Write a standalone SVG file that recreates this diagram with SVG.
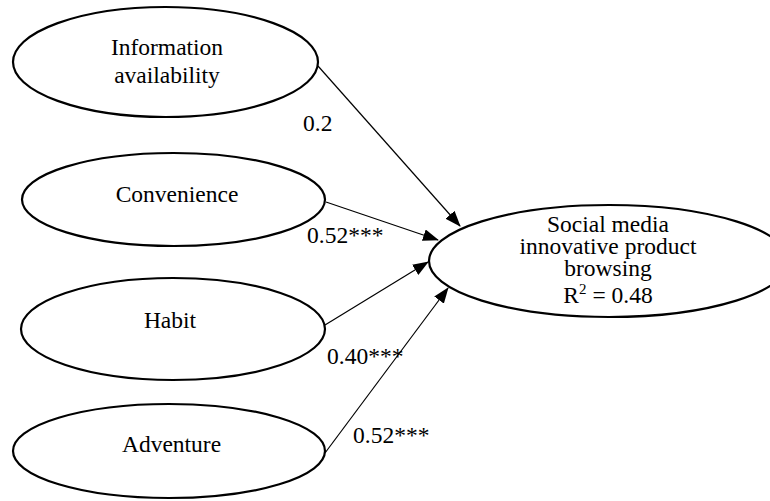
<svg xmlns="http://www.w3.org/2000/svg" width="770" height="501" viewBox="0 0 770 501">
<style>
.node ellipse{fill:#fff;stroke:#000;stroke-width:2.2}
text{font-family:"Liberation Serif","Times New Roman",serif;font-size:23.5px;fill:#000}
.c{text-anchor:middle}
.edge line{stroke:#000;stroke-width:1.2}
</style>
<defs>
<marker id="ah" markerWidth="16" markerHeight="12" refX="15" refY="6" orient="auto" markerUnits="userSpaceOnUse">
<path d="M0,0 L16,6 L0,12 Z" fill="#000"/>
</marker>
</defs>
<g id="n-info" class="node">
<ellipse cx="165.5" cy="62" rx="152.5" ry="55"/>
<text class="c" x="167" y="55">Information</text>
<text class="c" x="167" y="83">availability</text>
</g>
<g id="n-conv" class="node">
<ellipse cx="173.5" cy="199.5" rx="151.5" ry="46.5"/>
<text class="c" x="177" y="202">Convenience</text>
</g>
<g id="n-habit" class="node">
<ellipse cx="173" cy="329" rx="152" ry="51"/>
<text class="c" x="170" y="328">Habit</text>
</g>
<g id="n-adv" class="node">
<ellipse cx="169" cy="451" rx="156" ry="47"/>
<text class="c" x="171.5" y="452">Adventure</text>
</g>
<g id="n-target" class="node">
<ellipse cx="609" cy="261" rx="180" ry="56"/>
<text class="c" x="608" y="232">Social media</text>
<text class="c" x="608" y="254">innovative product</text>
<text class="c" x="608" y="276">browsing</text>
<text class="c" x="608" y="303">R<tspan dy="-9" font-size="15">2</tspan><tspan dy="9"> = 0.48</tspan></text>
</g>
<g id="edges" class="edge">
<line x1="318" y1="66" x2="460" y2="226" marker-end="url(#ah)"/>
<line x1="326" y1="202" x2="438" y2="240" marker-end="url(#ah)"/>
<line x1="325" y1="325" x2="428" y2="262" marker-end="url(#ah)"/>
<line x1="325" y1="453" x2="448" y2="288" marker-end="url(#ah)"/>
</g>
<g id="labels">
<text x="303" y="131">0.2</text>
<text x="307" y="243">0.52***</text>
<text x="327" y="364">0.40***</text>
<text x="353" y="443">0.52***</text>
</g>
</svg>
